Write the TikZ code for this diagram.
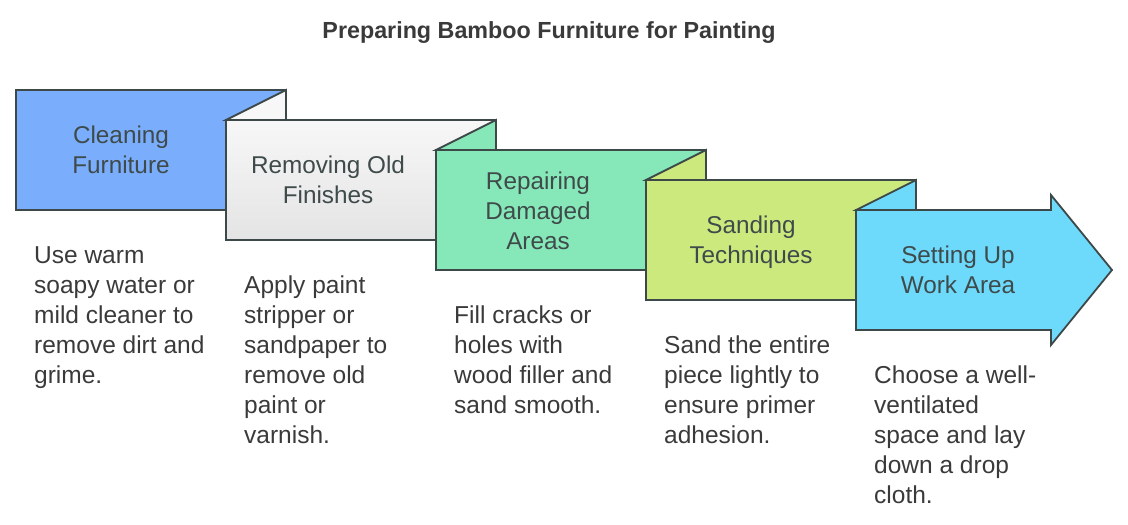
\documentclass[tikz,border=0pt]{standalone}
\usepackage{fontspec}
\setmainfont{Liberation Sans}
\usetikzlibrary{positioning}

\definecolor{edgegray}{HTML}{3D4848}
\definecolor{textgray}{HTML}{3F4A4A}
\definecolor{darktext}{HTML}{3A3A3A}
\definecolor{cleanblue}{HTML}{7AAEFC}
\definecolor{stripgrayA}{HTML}{F7F7F7}
\definecolor{stripgrayB}{HTML}{E4E4E4}
\definecolor{repairgreen}{HTML}{86E8B9}
\definecolor{sandlime}{HTML}{CCE97E}
\definecolor{setupcyan}{HTML}{6DDAFC}

\begin{document}
\begin{tikzpicture}[x=1pt, y=-1pt,
    stepbox/.style={draw=edgegray, line width=1.8pt, line join=miter},
    steplabel/.style={font=\fontsize{24.3}{30}\selectfont, text=textgray, align=center, inner sep=0pt},
    stepdesc/.style={font=\fontsize{24.5}{30}\selectfont, text=darktext, align=left, anchor=north west, inner sep=0pt}]
  \useasboundingbox (0,0) rectangle (1128,525);

  % Title
  \node[font=\bfseries\fontsize{23.3}{28}\selectfont, text=darktext] (title) at (549,33) {Preparing Bamboo Furniture for Painting};

  % Cleaning (step 1)
  \draw[stepbox, fill=cleanblue] (16,90) rectangle (286,210);
  \node[steplabel] (clean) at (121,150) {Cleaning\\Furniture};
  \node[stepdesc] (cleandesc) at (34,246) {Use warm\\soapy water or\\mild cleaner to\\remove dirt and\\grime.};

  % Removing old finishes (step 2)
  \draw[stepbox, top color=stripgrayA, bottom color=stripgrayB] (226,120) rectangle (496,240);
  \draw[stepbox, fill=stripgrayA] (226,120) -- (286,90) -- (286,120) -- cycle;
  \node[steplabel] (remove) at (328,180) {Removing Old\\Finishes};
  \node[stepdesc] (removedesc) at (244,276) {Apply paint\\stripper or\\sandpaper to\\remove old\\paint or\\varnish.};

  % Repairing (step 3)
  \draw[stepbox, fill=repairgreen] (436,150) rectangle (706,270);
  \draw[stepbox, fill=repairgreen] (436,150) -- (496,120) -- (496,150) -- cycle;
  \node[steplabel] (repair) at (538,211) {Repairing\\Damaged\\Areas};
  \node[stepdesc] (repairdesc) at (454,306) {Fill cracks or\\holes with\\wood filler and\\sand smooth.};

  % Sanding (step 4)
  \draw[stepbox, fill=sandlime] (646,180) rectangle (916,300);
  \draw[stepbox, fill=sandlime] (646,180) -- (706,150) -- (706,180) -- cycle;
  \node[steplabel] (sand) at (751,242) {Sanding\\Techniques};
  \node[stepdesc] (sanddesc) at (664,336) {Sand the entire\\piece lightly to\\ensure primer\\adhesion.};

  % Work area (step 5, arrow)
  \draw[stepbox, fill=setupcyan] (856,210) -- (1051,210) -- (1051,195) -- (1112,270)
    -- (1051,345) -- (1051,330) -- (856,330) -- cycle;
  \draw[stepbox, fill=setupcyan] (856,210) -- (916,180) -- (916,210) -- cycle;
  \node[steplabel] (setup) at (958,270) {Setting Up\\Work Area};
  \node[stepdesc] (setupdesc) at (874,366) {Choose a well-\\ventilated\\space and lay\\down a drop\\cloth.};

\end{tikzpicture}
\end{document}
